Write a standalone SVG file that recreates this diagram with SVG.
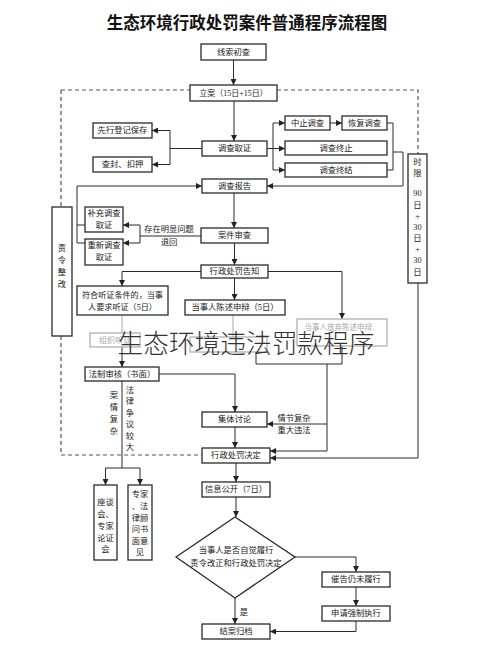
<svg xmlns="http://www.w3.org/2000/svg" width="490" height="669" viewBox="0 0 490 669">
<defs>
<marker id="ah" markerWidth="6" markerHeight="6" refX="6" refY="3" orient="auto" markerUnits="userSpaceOnUse"><path d="M0,0 L6,3 L0,6 z" fill="#222"/></marker>
<marker id="ahf" markerWidth="6" markerHeight="6" refX="6" refY="3" orient="auto" markerUnits="userSpaceOnUse"><path d="M0,0 L6,3 L0,6 z" fill="#999"/></marker>
<style>
.box{fill:#fff;stroke:#2a2a2a;stroke-width:1.3}
.fbox{fill:#fff;stroke:#aaa;stroke-width:1.2}
.t{font-family:"Liberation Serif","Noto Sans CJK SC",serif;font-size:8.3px;fill:#1a1a1a;text-anchor:middle;dominant-baseline:central}
.ft{font-family:"Liberation Serif","Noto Sans CJK SC",serif;font-size:8px;fill:#aaa;text-anchor:middle;dominant-baseline:central}
.ln{stroke:#2a2a2a;stroke-width:1;fill:none}
.fln{stroke:#aaa;stroke-width:1;fill:none}
.dash{stroke:#555;stroke-width:1.2;stroke-dasharray:4 3;fill:none}
</style>
</defs>
<rect width="490" height="669" fill="#fff"/>
<text x="247" y="22" style="font-family:'Noto Sans CJK SC',sans-serif;font-size:16.5px;font-weight:bold;fill:#111;text-anchor:middle;dominant-baseline:central">生态环境行政处罚案件普通程序流程图</text>

<g id="connectors">
<path class="dash" d="M61,90 H190 M277,90 H418 V154 M61,90 V207 M61,336 V455 H202"/>
<path class="ln" d="M233.5,60 V85" marker-end="url(#ah)"/>
<path class="ln" d="M234,101 V141" marker-end="url(#ah)"/>
<path class="ln" d="M202,148.5 H170 M170,130.5 V164.5"/>
<path class="ln" d="M170,130.5 H152" marker-end="url(#ah)"/>
<path class="ln" d="M170,164.5 H152" marker-end="url(#ah)"/>
<path class="ln" d="M267,148.5 H273 M273,123 V170"/>
<path class="ln" d="M273,123 H285" marker-end="url(#ah)"/>
<path class="ln" d="M273,148.5 H285" marker-end="url(#ah)"/>
<path class="ln" d="M273,170 H285" marker-end="url(#ah)"/>
<path class="ln" d="M330,123 H342" marker-end="url(#ah)"/>
<path class="ln" d="M387,123 H393 V170 H387 M393,152 H403 V186"/>
<path class="ln" d="M403,186 H267" marker-end="url(#ah)"/>
<path class="ln" d="M234,193 V228" marker-end="url(#ah)"/>
<path class="ln" d="M77,243 V186 H202" marker-end="url(#ah)"/>
<path class="ln" d="M77,225 H85 M77,243 H85"/>
<path class="ln" d="M201,236 H140 M140,225 V243"/>
<path class="ln" d="M140,225 H123" marker-end="url(#ah)"/>
<path class="ln" d="M140,243 H123" marker-end="url(#ah)"/>
<path class="ln" d="M234.5,243 V265" marker-end="url(#ah)"/>
<path class="ln" d="M201,271.5 H122 V286" marker-end="url(#ah)"/>
<path class="ln" d="M234.5,278 V300" marker-end="url(#ah)"/>
<path class="ln" d="M268,271.5 H342 V319" marker-end="url(#ah)"/>
<path class="fln" d="M122,315 V333"/>
<path class="fln" d="M233,315 V337"/>
<path class="ln" d="M122,347 V367" marker-end="url(#ah)"/>
<path class="ln" d="M256,352 V364 H342 V346 M327,364 V451"/>
<path class="ln" d="M327,424 H267" marker-end="url(#ah)"/>
<path class="ln" d="M327,451 H270" marker-end="url(#ah)"/>
<path class="ln" d="M418,283 V458 H270" marker-end="url(#ah)"/>
<path class="ln" d="M159,374 H235 V412" marker-end="url(#ah)"/>
<path class="ln" d="M235,427 V448" marker-end="url(#ah)"/>
<path class="ln" d="M122,381 V468 M105.5,468 H140"/>
<path class="ln" d="M105.5,468 V485" marker-end="url(#ah)"/>
<path class="ln" d="M140,468 V485" marker-end="url(#ah)"/>
<path class="ln" d="M236,463 V482" marker-end="url(#ah)"/>
<path class="ln" d="M236,497 V517" marker-end="url(#ah)"/>
<path class="ln" d="M295,557 H356 V572" marker-end="url(#ah)"/>
<path class="ln" d="M356,587 V606" marker-end="url(#ah)"/>
<path class="ln" d="M356,621 V631.5 H270" marker-end="url(#ah)"/>
<path class="ln" d="M235,598 V624" marker-end="url(#ah)"/>
<text class="t" x="169" y="229">存在明显问题</text>
<text class="t" x="169" y="242">退回</text>
<text class="t" x="294" y="418">情节复杂</text>
<text class="t" x="294" y="430">重大违法</text>
<text class="t" x="244" y="612">是</text>
<g class="t">
<text x="114" y="395">案</text><text x="114" y="407">情</text><text x="114" y="419">复</text><text x="114" y="431">杂</text>
<text x="130" y="390">法</text><text x="130" y="401.5">律</text><text x="130" y="413">争</text><text x="130" y="424.5">议</text><text x="130" y="436">较</text><text x="130" y="447.5">大</text>
</g>
</g>

<g id="n1"><rect class="box" x="201" y="44" width="65" height="16"/><text class="t" x="233.5" y="52">线索初查</text></g>
<g id="n2"><rect class="box" x="190" y="85" width="87" height="16"/><text class="t" x="233.5" y="93" style="font-size:8px">立案（15日+15日）</text></g>
<g id="n3"><rect class="box" x="202" y="141" width="65" height="15"/><text class="t" x="234.5" y="148.5">调查取证</text></g>
<g id="n4"><rect class="box" x="93" y="123" width="59" height="15"/><text class="t" x="122.5" y="130.5">先行登记保存</text></g>
<g id="n5"><rect class="box" x="93" y="157" width="59" height="15"/><text class="t" x="122.5" y="164.5">查封、扣押</text></g>
<g id="n6"><rect class="box" x="285" y="116" width="45" height="14"/><text class="t" x="307.5" y="123">中止调查</text></g>
<g id="n7"><rect class="box" x="342" y="116" width="45" height="14"/><text class="t" x="364.5" y="123">恢复调查</text></g>
<g id="n8"><rect class="box" x="285" y="141" width="102" height="14"/><text class="t" x="336" y="148">调查终止</text></g>
<g id="n9"><rect class="box" x="285" y="163" width="102" height="14"/><text class="t" x="336" y="170">调查终结</text></g>
<g id="n10"><rect class="box" x="202" y="179" width="65" height="14"/><text class="t" x="234.5" y="186">调查报告</text></g>
<g id="n11"><rect class="box" x="85" y="207" width="38" height="25"/><text class="t" x="104" y="213.5">补充调查</text><text class="t" x="104" y="225.5">取证</text></g>
<g id="n12"><rect class="box" x="85" y="239" width="38" height="26"/><text class="t" x="104" y="245.5">重新调查</text><text class="t" x="104" y="257.5">取证</text></g>
<g id="n13"><rect class="box" x="201" y="228" width="67" height="15"/><text class="t" x="234.5" y="235.5">案件审查</text></g>
<g id="n14"><rect class="box" x="201" y="265" width="67" height="13"/><text class="t" x="234.5" y="271.5">行政处罚告知</text></g>
<g id="n15"><rect class="box" x="77" y="286" width="91" height="29"/><text class="t" x="122.5" y="295" style="font-size:8.1px">符合听证条件的，当事</text><text class="t" x="122.5" y="307" style="font-size:8.1px">人要求听证（5日）</text></g>
<g id="n16"><rect class="box" x="185" y="300" width="100" height="15"/><text class="t" x="235" y="307.5">当事人陈述申辩（5日）</text></g>
<g id="n17"><rect class="fbox" x="297" y="319" width="90" height="27"/><text class="ft" x="342" y="327" style="font-size:7.5px">当事人放弃陈述申辩、</text></g>
<g id="n18"><rect class="fbox" x="90" y="333" width="50" height="14"/><text class="ft" x="115" y="340">组织听证</text></g>
<g id="n19"><rect class="fbox" x="190" y="337" width="77" height="15"/></g>
<g id="n20"><rect class="box" x="85" y="367" width="74" height="14"/><text class="t" x="122" y="374">法制审核（书面）</text></g>
<g id="n21"><rect class="box" x="202" y="412" width="65" height="15"/><text class="t" x="234.5" y="419.5">集体讨论</text></g>
<g id="n22"><rect class="box" x="202" y="448" width="68" height="15"/><text class="t" x="236" y="455.5">行政处罚决定</text></g>
<g id="n23"><rect class="box" x="94" y="485" width="23" height="75"/>
<text class="t" x="105.5" y="502">座谈</text><text class="t" x="105.5" y="514">会、</text><text class="t" x="105.5" y="526">专家</text><text class="t" x="105.5" y="538">论证</text><text class="t" x="105.5" y="549">会</text></g>
<g id="n24"><rect class="box" x="128" y="485" width="24" height="75"/>
<text class="t" x="140" y="494">专家</text><text class="t" x="140" y="506">、法</text><text class="t" x="140" y="518">律顾</text><text class="t" x="140" y="529">问书</text><text class="t" x="140" y="541">面意</text><text class="t" x="140" y="552">见</text></g>
<g id="n25"><rect class="box" x="202" y="482" width="68" height="15"/><text class="t" x="236" y="489.5">信息公开（7日）</text></g>
<g id="n26"><polygon class="box" points="235,517 295,557 235,598 176,557"/><text class="t" x="236" y="550">当事人是否自觉履行</text><text class="t" x="236" y="563">责令改正和行政处罚决定</text></g>
<g id="n27"><rect class="box" x="322" y="572" width="68" height="15"/><text class="t" x="356" y="579.5">催告仍未履行</text></g>
<g id="n28"><rect class="box" x="322" y="606" width="68" height="15"/><text class="t" x="356" y="613.5">申请强制执行</text></g>
<g id="n29"><rect class="box" x="202" y="624" width="68" height="15"/><text class="t" x="236" y="631.5">结案归档</text></g>
<g id="n30"><rect class="box" x="408" y="154" width="19" height="129"/>
<g class="t"><text x="417.5" y="162">时</text><text x="417.5" y="173">限</text><text x="417.5" y="193">90</text><text x="417.5" y="205">日</text><text x="417.5" y="216">+</text><text x="417.5" y="227">30</text><text x="417.5" y="238">日</text><text x="417.5" y="249">+</text><text x="417.5" y="260">30</text><text x="417.5" y="272">日</text></g></g>
<g id="n31"><rect class="box" x="52" y="207" width="20" height="129"/>
<g class="t"><text x="62" y="248">责</text><text x="62" y="260">令</text><text x="62" y="272">整</text><text x="62" y="284">改</text></g></g>

<text x="246" y="341" style="font-family:'Noto Sans CJK SC',sans-serif;font-size:25.7px;font-weight:300;fill:#333;text-anchor:middle;dominant-baseline:central">生态环境违法罚款程序</text>
</svg>
